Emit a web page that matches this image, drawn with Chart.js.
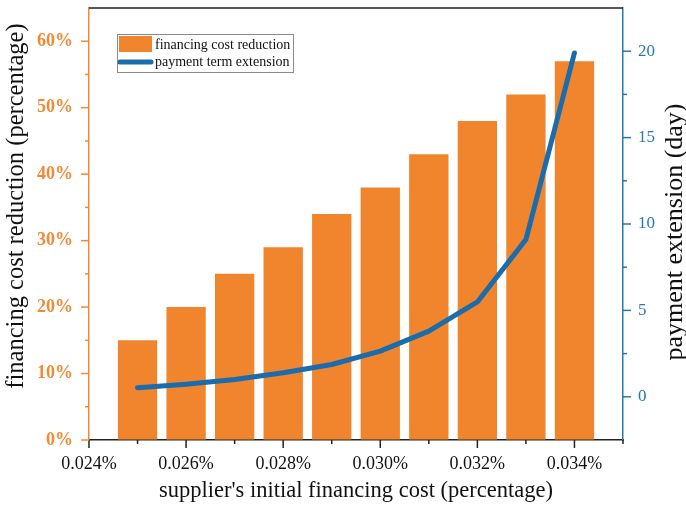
<!DOCTYPE html>
<html>
<head>
<meta charset="utf-8">
<script src="https://cdn.jsdelivr.net/npm/chart.js@4/dist/chart.umd.min.js"></script>
<style>
  html, body { margin: 0; padding: 0; background: #ffffff; }
  #wrap { width: 686px; height: 512px; }
</style>
</head>
<body>
<div id="wrap"><canvas id="c" width="686" height="512"></canvas></div>
<script>
// supplier's initial financing cost (%), one bar/point per value
const initialCost = [0.025, 0.026, 0.027, 0.028, 0.029, 0.030, 0.031, 0.032, 0.033, 0.034];
// financing cost reduction (%)
const costReduction = [15, 20, 25, 29, 34, 38, 43, 48, 52, 57];
// payment term extension (days)
const termExtension = [0.52, 0.73, 1.0, 1.39, 1.87, 2.64, 3.8, 5.49, 9.1, 19.9];
// labelled tick values
const xTickLabels = [0.024, 0.026, 0.028, 0.030, 0.032, 0.034];
const leftTickLabels = [0, 10, 20, 30, 40, 50, 60];
const rightTickLabels = [0, 5, 10, 15, 20];
const leftTitle = 'financing cost reduction (percentage)';
const rightTitle = 'payment extension (day)';

const ORANGE = '#F0852D';
const ORANGE_AXIS = '#F28A35';
const BLUE = '#1A6CAC';
const BLUE_AXIS = '#2A78B0';
const SERIF = '"Liberation Serif", "Times New Roman", serif';

const near = (v, list) => list.some(t => Math.abs(t - v) < 1e-7);
const noEdgePadding = scale => { scale.paddingTop = 0; scale.paddingBottom = 0; };

function verticalTitle(ctx, text, x, y, size) {
  ctx.save();
  ctx.translate(x, y);
  ctx.rotate(-Math.PI / 2);
  ctx.fillStyle = '#111';
  ctx.font = size + 'px ' + SERIF;
  ctx.textAlign = 'center';
  ctx.textBaseline = 'middle';
  ctx.fillText(text, 0, 0);
  ctx.restore();
}

// Outward ticks (long for labelled values, short for minor ones), top frame,
// vertical axis titles (reading upwards) and the legend box
const decorations = {
  id: 'decorations',
  afterDraw(chart) {
    const ctx = chart.ctx;
    const a = chart.chartArea;
    const sx = chart.scales.x, sl = chart.scales.yL, sr = chart.scales.yR;
    const midY = (a.top + a.bottom) / 2;
    ctx.save();
    ctx.lineCap = 'butt';
    ctx.strokeStyle = '#222';
    ctx.lineWidth = 1.5;
    ctx.beginPath();
    ctx.moveTo(a.left, a.top); ctx.lineTo(a.right, a.top);
    ctx.stroke();

    sx.ticks.forEach(t => {
      const x = sx.getPixelForValue(t.value);
      const len = near(t.value, xTickLabels) ? 8 : 4;
      ctx.beginPath(); ctx.moveTo(x, a.bottom); ctx.lineTo(x, a.bottom + len); ctx.stroke();
    });
    ctx.strokeStyle = ORANGE_AXIS;
    sl.ticks.forEach(t => {
      if (t.value >= sl.max) return;
      const y = sl.getPixelForValue(t.value);
      const len = near(t.value, leftTickLabels) ? 8 : 4;
      ctx.beginPath(); ctx.moveTo(a.left, y); ctx.lineTo(a.left - len, y); ctx.stroke();
    });
    ctx.strokeStyle = BLUE_AXIS;
    sr.ticks.forEach(t => {
      if (t.value >= sr.max || t.value <= sr.min) return;
      const y = sr.getPixelForValue(t.value);
      const len = near(t.value, rightTickLabels) ? 8 : 4;
      ctx.beginPath(); ctx.moveTo(a.right, y); ctx.lineTo(a.right + len, y); ctx.stroke();
    });

    verticalTitle(ctx, leftTitle, sl.left + 17, midY - 18, 24.5);
    verticalTitle(ctx, rightTitle, sr.right - 11, midY + 8, 26);

    // legend
    const ds = chart.data.datasets;
    const lx = a.left + 28, ly = a.top + 26, lw = 176, lh = 38;
    ctx.fillStyle = '#ffffff';
    ctx.fillRect(lx, ly, lw, lh);
    ctx.strokeStyle = '#8a8a8a';
    ctx.lineWidth = 1;
    ctx.strokeRect(lx + 0.5, ly + 0.5, lw, lh);
    ctx.fillStyle = ds[0].backgroundColor;
    ctx.fillRect(lx + 2, ly + 2, 33, 16);
    ctx.strokeStyle = ds[1].borderColor;
    ctx.lineWidth = 5;
    ctx.lineCap = 'round';
    ctx.beginPath(); ctx.moveTo(lx + 3, ly + 28); ctx.lineTo(lx + 34, ly + 28); ctx.stroke();
    ctx.fillStyle = '#111';
    ctx.font = '14px ' + SERIF;
    ctx.textBaseline = 'middle';
    ctx.textAlign = 'left';
    ctx.fillText(ds[0].label, lx + 38, ly + 11);
    ctx.fillText(ds[1].label, lx + 38, ly + 28);
    ctx.restore();
  }
};

new Chart(document.getElementById('c'), {
  type: 'bar',
  data: {
    datasets: [
      {
        type: 'bar',
        label: 'financing cost reduction',
        data: initialCost.map((x, i) => ({ x: x, y: costReduction[i] })),
        backgroundColor: ORANGE,
        borderWidth: 0,
        barPercentage: 0.81,
        categoryPercentage: 1,
        yAxisID: 'yL',
        order: 2
      },
      {
        type: 'line',
        label: 'payment term extension',
        data: initialCost.map((x, i) => ({ x: x, y: termExtension[i] })),
        borderColor: BLUE,
        borderWidth: 5,
        borderCapStyle: 'round',
        borderJoinStyle: 'round',
        pointRadius: 0,
        fill: false,
        tension: 0,
        yAxisID: 'yR',
        order: 1
      }
    ]
  },
  plugins: [decorations],
  options: {
    responsive: false,
    animation: false,
    devicePixelRatio: 1,
    layout: { padding: { top: 8, left: 0, right: 0, bottom: 0 } },
    plugins: { legend: { display: false }, tooltip: { enabled: false } },
    scales: {
      x: {
        type: 'linear',
        position: 'bottom',
        min: 0.024,
        max: 0.035,
        offset: false,
        afterBuildTicks(scale) {
          scale.ticks = scale.ticks
            .filter(t => Math.abs(t.value * 1000 - Math.round(t.value * 1000)) < 1e-6)
            .map(t => ({ value: Math.round(t.value * 1000) / 1000 }));
        },
        afterFit(scale) { scale.height = 72; scale.paddingLeft = 0; scale.paddingRight = 0; },
        ticks: {
          stepSize: 0.001,
          autoSkip: false,
          maxRotation: 0,
          padding: 5,
          color: '#111',
          font: { family: SERIF, size: 18 },
          callback: v => near(v, xTickLabels) ? v.toFixed(3) + '%' : ''
        },
        grid: { drawOnChartArea: false, drawTicks: true, tickLength: 8, tickColor: 'transparent' },
        border: { display: true, color: '#222', width: 1.5 },
        title: {
          display: true,
          text: "supplier's initial financing cost (percentage)",
          color: '#111',
          font: { family: SERIF, size: 22.5, lineHeight: 1 },
          padding: { top: 0, bottom: 10 }
        }
      },
      yL: {
        type: 'linear',
        position: 'left',
        min: 0,
        max: 65,
        afterFit(scale) { scale.width = 89; noEdgePadding(scale); },
        ticks: {
          stepSize: 5,
          padding: 8,
          color: ORANGE_AXIS,
          font: { family: SERIF, size: 18, weight: 'bold' },
          callback: v => near(v, leftTickLabels) ? v + '%' : ''
        },
        grid: { drawOnChartArea: false, drawTicks: true, tickLength: 8, tickColor: 'transparent' },
        border: { display: true, color: ORANGE_AXIS, width: 1.5 },
        title: { display: false }
      },
      yR: {
        type: 'linear',
        position: 'right',
        min: -2.5,
        max: 22.5,
        afterFit(scale) { scale.width = 63; noEdgePadding(scale); },
        ticks: {
          stepSize: 2.5,
          padding: 7,
          color: BLUE_AXIS,
          font: { family: SERIF, size: 17 },
          callback: v => near(v, rightTickLabels) ? String(v) : ''
        },
        grid: { drawOnChartArea: false, drawTicks: true, tickLength: 8, tickColor: 'transparent' },
        border: { display: true, color: BLUE_AXIS, width: 1.5 },
        title: { display: false }
      }
    }
  }
});
</script>
</body>
</html>
